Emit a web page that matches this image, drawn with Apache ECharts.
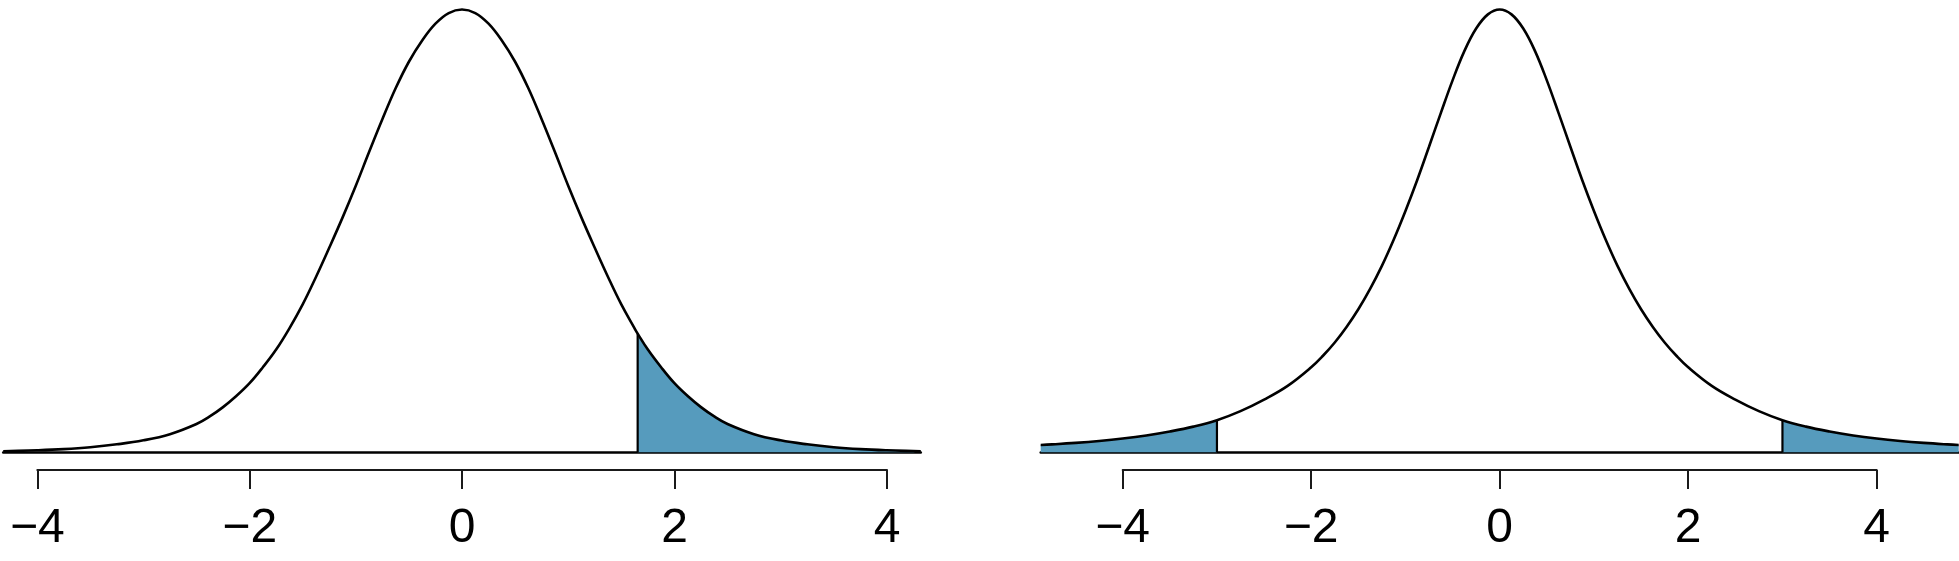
<!DOCTYPE html>
<html>
<head>
<meta charset="utf-8">
<script src="https://cdn.jsdelivr.net/npm/echarts@6/dist/echarts.min.js"></script>
<style>
html,body{margin:0;padding:0;background:#fff;}
#chart{width:1959px;height:561px;}
</style>
</head>
<body>
<div id="chart"></div>
<script>
// ---- data (relative density, peak = 1) ----
const leftX = [-4.32,-4.25,-4,-3.75,-3.5,-3.25,-3,-2.75,-2.5,-2.375,-2.25,-2.125,-2,-1.875,-1.75,-1.625,-1.5,-1.375,-1.25,-1.125,-1,-0.875,-0.75,-0.625,-0.5,-0.375,-0.25,-0.125,0,0.125,0.25,0.375,0.5,0.625,0.75,0.875,1,1.125,1.25,1.375,1.5,1.625,1.654,1.75,1.875,2,2.125,2.25,2.375,2.5,2.75,3,3.25,3.5,3.75,4,4.25,4.32];
const leftY = [0.0025,0.0028,0.0045,0.0072,0.0115,0.018,0.027,0.041,0.064,0.081,0.102,0.127,0.156,0.192,0.232,0.280,0.334,0.396,0.462,0.530,0.602,0.678,0.752,0.822,0.882,0.930,0.968,0.992,1,0.992,0.968,0.930,0.882,0.822,0.752,0.678,0.602,0.530,0.462,0.396,0.334,0.280,0.268,0.232,0.192,0.156,0.127,0.102,0.081,0.064,0.041,0.027,0.018,0.0115,0.0072,0.0045,0.0028,0.0025];
const leftCut = 1.654;          // right-tail cutoff (shaded above)

const rightX = [-4.87,-4.75,-4.5,-4.25,-4,-3.75,-3.5,-3.25,-3,-2.75,-2.5,-2.25,-2,-1.875,-1.75,-1.625,-1.5,-1.375,-1.25,-1.125,-1,-0.875,-0.75,-0.625,-0.5,-0.375,-0.25,-0.125,0,0.125,0.25,0.375,0.5,0.625,0.75,0.875,1,1.125,1.25,1.375,1.5,1.625,1.75,1.875,2,2.25,2.5,2.75,3,3.25,3.5,3.75,4,4.25,4.5,4.75,4.87];
const rightY = [0.0165,0.0178,0.0212,0.0255,0.031,0.038,0.047,0.058,0.0725,0.093,0.119,0.150,0.192,0.218,0.248,0.283,0.323,0.369,0.421,0.480,0.545,0.615,0.690,0.766,0.840,0.906,0.957,0.989,1,0.989,0.957,0.906,0.840,0.766,0.690,0.615,0.545,0.480,0.421,0.369,0.323,0.283,0.248,0.218,0.192,0.150,0.119,0.093,0.0725,0.058,0.047,0.038,0.031,0.0255,0.0212,0.0178,0.0165];
const rightCut = 3;             // two-tail cutoff (shaded beyond ±3)

const tickValues = [-4,-2,0,2,4];
const tickLabels = ['\u22124','\u22122','0','2','4'];

// ---- build series data ----
const pairs = (xs, ys) => xs.map((x, i) => [x, ys[i]]);
const leftData = pairs(leftX, leftY);
const rightData = pairs(rightX, rightY);
const yAt = (data, x) => data.find(d => d[0] === x)[1];

const leftShade = leftData.filter(d => d[0] >= leftCut);
const rightShadeL = rightData.filter(d => d[0] <= -rightCut);
const rightShadeR = rightData.filter(d => d[0] >= rightCut);

const BLUE = '#569BBD';
const SMOOTH = 0.4;

function curveAxis(idx, min, max) {
  return {
    gridIndex: idx, type: 'value', min: min, max: max,
    axisLine: {show: true, onZero: false, lineStyle: {color: '#000', width: 2.5}},
    axisTick: {show: false}, axisLabel: {show: false}, splitLine: {show: false}
  };
}
function tickAxis(idx) {
  return {
    gridIndex: idx, type: 'value', min: -4, max: 4, interval: 2,
    axisLine: {show: true, lineStyle: {color: '#1a1a1a', width: 2}},
    axisTick: {show: true, length: 19, lineStyle: {color: '#1a1a1a', width: 2}},
    axisLabel: {
      show: true, margin: 35, fontSize: 48, color: '#000',
      fontFamily: 'Liberation Sans, Arial, sans-serif',
      showMinLabel: true, showMaxLabel: true,
      formatter: v => tickLabels[tickValues.indexOf(v)]
    },
    splitLine: {show: false}
  };
}
function yAx(idx) {
  return {gridIndex: idx, type: 'value', min: 0, max: 1, show: false};
}
function curve(idx, data) {
  return {type: 'line', xAxisIndex: idx, yAxisIndex: idx, data: data, smooth: SMOOTH,
    showSymbol: false, silent: true, clip: false, z: 4,
    lineStyle: {color: '#000', width: 2.6}};
}
function shade(idx, data) {
  return {type: 'line', xAxisIndex: idx, yAxisIndex: idx, data: data, smooth: SMOOTH,
    showSymbol: false, silent: true, clip: false, z: 2,
    lineStyle: {width: 0, color: BLUE}, areaStyle: {color: BLUE, opacity: 1}};
}
function vline(idx, x, data) {
  return {type: 'line', xAxisIndex: idx, yAxisIndex: idx, data: [[x, 0], [x, yAt(data, x)]],
    showSymbol: false, silent: true, clip: false, z: 3,
    lineStyle: {color: '#000', width: 2.2}};
}

const chart = echarts.init(document.getElementById('chart'), null, {renderer: 'canvas'});
chart.setOption({
  backgroundColor: '#fff',
  animation: false,
  grid: [
    {left: 3.2, width: 917.6, top: 9.5, height: 442.8},
    {left: 37.3, width: 849.7, top: 460, height: 10},
    {left: 1040.7, width: 918, top: 9.5, height: 442.8},
    {left: 1122.7, width: 754, top: 460, height: 10}
  ],
  xAxis: [
    curveAxis(0, leftX[0], leftX[leftX.length - 1]),
    tickAxis(1),
    curveAxis(2, rightX[0], rightX[rightX.length - 1]),
    tickAxis(3)
  ],
  yAxis: [yAx(0), yAx(1), yAx(2), yAx(3)],
  series: [
    shade(0, leftShade),
    vline(0, leftCut, leftData),
    curve(0, leftData),
    shade(2, rightShadeL),
    shade(2, rightShadeR),
    vline(2, -rightCut, rightData),
    vline(2, rightCut, rightData),
    curve(2, rightData)
  ]
});
</script>
</body>
</html>
